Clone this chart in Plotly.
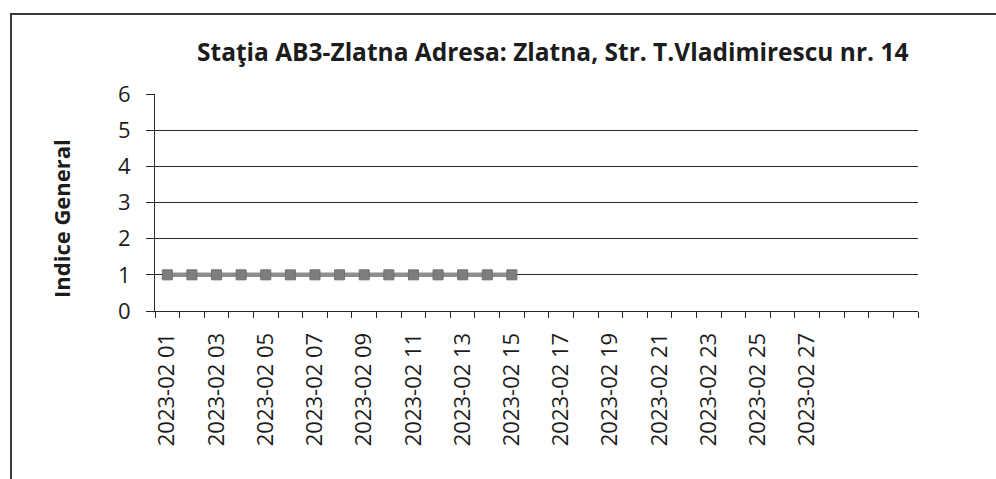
import plotly.graph_objects as go

title_text = "Staţia AB3-Zlatna Adresa: Zlatna, Str. T.Vladimirescu nr. 14"
y_title = "Indice General"
days = list(range(1, 32))  # 31 category slots on the axis
label_days = [1, 3, 5, 7, 9, 11, 13, 15, 17, 19, 21, 23, 25, 27]
label_text = ["2023-02 %02d" % d for d in label_days]
data_days = list(range(1, 16))
data_values = [1, 1, 1, 1, 1, 1, 1, 1, 1, 1, 1, 1, 1, 1, 1]
y_ticks = [0, 1, 2, 3, 4, 5, 6]

FONT = "Open Sans"
INK = "#1c1c1c"
W, H = 996, 479
L, R, T, B = 155, 78, 94, 168
PW, PH = W - L - R, H - T - B


def px_x(x):
    return (x - L) / PW


def px_y(y):
    return (H - B - y) / PH


fig = go.Figure()
fig.add_trace(go.Scatter(
    x=data_days, y=data_values, mode="lines+markers",
    line=dict(color="#8e8e8e", width=4.5),
    marker=dict(symbol="square", size=10, color="#7e7e7e",
                line=dict(color="#707070", width=1)),
    showlegend=False,
))

fig.update_layout(
    width=W, height=H,
    margin=dict(l=L, r=R, t=T, b=B, autoexpand=False),
    paper_bgcolor="white", plot_bgcolor="white",
    font=dict(family=FONT, color=INK, size=22),
)

# chart title
fig.add_annotation(text="<b>%s</b>" % title_text, xref="paper", yref="paper",
                   x=px_x(552), y=px_y(51), xanchor="center", yanchor="middle",
                   showarrow=False, font=dict(family=FONT, size=24.5, color=INK))
# y axis title
fig.add_annotation(text="<b>%s</b>" % y_title, xref="paper", yref="paper",
                   x=px_x(61), y=px_y(219), xanchor="center", yanchor="middle",
                   textangle=-90, showarrow=False,
                   font=dict(family=FONT, size=22, color=INK))

# outer scanned frame: top and left edges
fig.add_shape(type="line", xref="paper", yref="paper",
              x0=px_x(10), x1=px_x(996), y0=px_y(14), y1=px_y(14),
              line=dict(color="#3a3a3a", width=2))
fig.add_shape(type="line", xref="paper", yref="paper",
              x0=px_x(11), x1=px_x(11), y0=px_y(14), y1=px_y(479),
              line=dict(color="#3a3a3a", width=2))

fig.update_xaxes(
    range=[0.5, 31.5],
    tickmode="array", tickvals=label_days, ticktext=label_text,
    tickangle=-90, ticks="", ticklabelstandoff=12,
    tickfont=dict(family=FONT, size=22, color=INK),
    showgrid=False, zeroline=False,
    showline=True, linecolor="#2a2a2a", linewidth=1,
    minor=dict(tickmode="array", tickvals=[d + 0.5 for d in [0] + days],
               ticks="outside", ticklen=6, tickcolor="#2a2a2a", showgrid=False),
)
fig.update_yaxes(
    range=[0, 6], tickmode="array", tickvals=y_ticks,
    ticks="outside", ticklen=8, tickcolor="#2a2a2a", ticklabelstandoff=11,
    tickfont=dict(family=FONT, size=22, color=INK),
    showgrid=True, gridcolor="#2a2a2a", gridwidth=1,
    zeroline=False, showline=True, linecolor="#2a2a2a", linewidth=1,
)

fig.write_html("out.html", config={"displayModeBar": False},
               post_script="document.body.style.margin='0';document.body.style.overflow='hidden';")
